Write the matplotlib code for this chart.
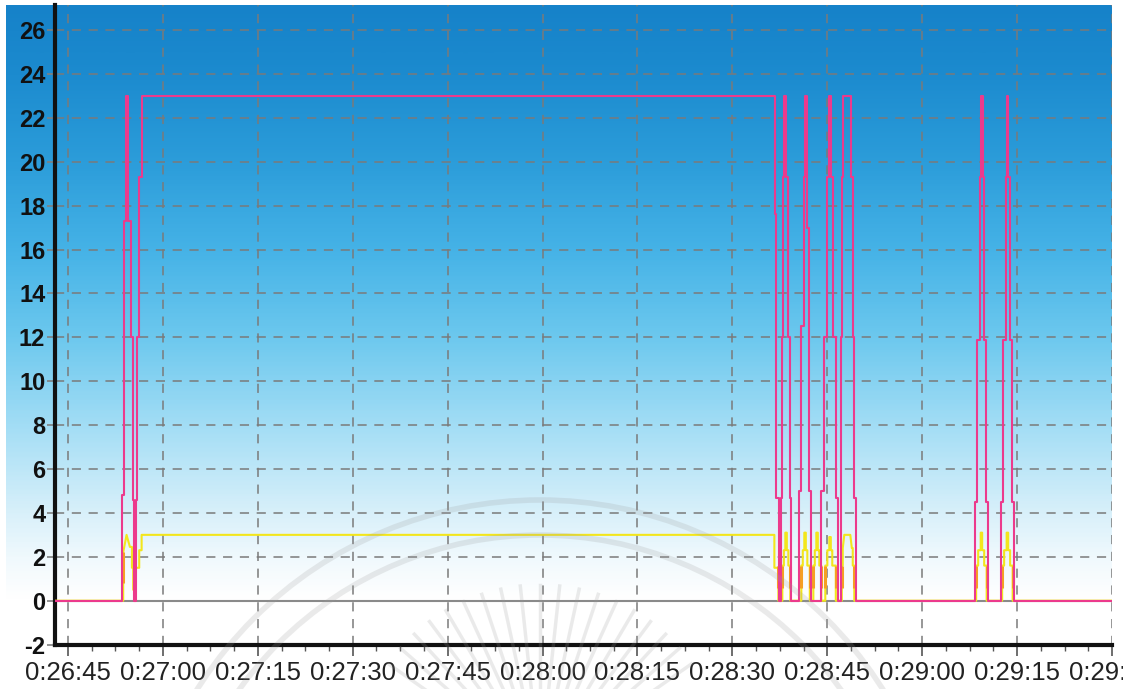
import matplotlib
matplotlib.use("Agg")
import numpy as np
import matplotlib.pyplot as plt
from matplotlib.colors import LinearSegmentedColormap
from matplotlib.ticker import AutoMinorLocator, FuncFormatter
from matplotlib.patches import Circle

plt.rcParams["axes.unicode_minus"] = False

T0 = 26 * 60 + 45  # 0:26:45 in seconds

# pink trace: seconds after 0:26:45, value
pink_t = [-2.05, 8.57, 8.57, 8.84, 8.84, 9.16, 9.16, 9.52, 9.52, 10.03, 10.03, 10.2, 10.2, 10.42, 10.42,
          10.74, 10.74, 10.86, 10.86, 11.26, 11.26, 11.64, 11.64,
          111.75, 111.75, 111.95, 111.95, 112.35, 112.35,
          112.66, 112.66, 112.82, 112.82, 112.98, 112.98, 113.22, 113.22, 113.53, 113.53, 113.77, 113.77, 114.08, 114.08, 114.32, 114.32,
          115.51, 115.51, 115.85, 115.85, 116.37, 116.37, 116.53, 116.53, 116.85, 116.85, 117.16, 117.16, 117.48, 117.48,
          119.06, 119.06, 119.53, 119.53, 120.01, 120.01, 120.32, 120.32, 120.64, 120.64, 120.95, 120.95, 121.43, 121.43, 121.67, 121.67,
          122.17, 122.17, 122.22, 122.22, 122.30, 122.30, 122.45, 122.45, 123.80, 123.80, 124.0, 124.0, 124.3, 124.3, 124.59, 124.59,
          143.38, 143.38, 143.69, 143.69, 144.17, 144.17, 144.32, 144.32, 144.56, 144.56, 144.80, 144.80, 145.11, 145.11, 145.35, 145.35,
          147.48, 147.48, 147.80, 147.80, 148.19, 148.19, 148.35, 148.35, 148.59, 148.59, 148.90, 148.90, 149.22, 149.22, 149.53, 149.53,
          164.85]
pink_v = [0, 0, 4.8, 4.8, 17.3, 17.3, 23, 23, 17.3, 17.3, 12, 12, 4.6, 4.6, 0,
          0, 4.6, 4.6, 12, 12, 19.3, 19.3, 23,
          23, 17.6, 17.6, 4.7, 4.7, 0,
          0, 4.7, 4.7, 12, 12, 19.3, 19.3, 23, 23, 19.3, 19.3, 12, 12, 4.7, 4.7, 0,
          0, 5, 5, 12.5, 12.5, 19.3, 19.3, 23, 23, 17, 17, 5, 5, 0,
          0, 5, 5, 12, 12, 19.3, 19.3, 23, 23, 19.3, 19.3, 12, 12, 4.7, 4.7, 0,
          0, 4.7, 4.7, 12, 12, 19.3, 19.3, 23, 23, 19.3, 19.3, 12, 12, 4.7, 4.7, 0,
          0, 4.5, 4.5, 11.9, 11.9, 19.3, 19.3, 23, 23, 19.3, 19.3, 11.9, 11.9, 4.5, 4.5, 0,
          0, 4.5, 4.5, 11.9, 11.9, 19.3, 19.3, 23, 23, 19.3, 19.3, 11.9, 11.9, 4.5, 4.5, 0,
          0]

# yellow trace
yellow_t = [-2.05, 8.73, 8.73, 9.26, 9.79, 10.11, 10.11, 10.31, 10.31, 10.6, 10.6, 11.26, 11.26, 11.64, 11.64,
            111.64, 111.64, 112.27, 112.27,
            112.90, 112.90, 113.14, 113.14, 113.37, 113.37, 113.61, 113.61, 113.85, 113.85, 114.16, 114.16,
            115.90, 115.90, 116.13, 116.13, 116.37, 116.37, 116.61, 116.61, 116.85, 116.85, 117.24, 117.24,
            117.80, 117.80, 118.03, 118.03, 118.27, 118.27, 118.51, 118.51, 118.74, 118.74, 119.06, 119.06,
            119.69, 119.69, 120.01, 120.01, 120.32, 120.32, 120.56, 120.56, 120.79, 120.79, 121.35, 121.35,
            122.30, 122.30, 122.45, 122.45, 122.69, 123.64, 123.88, 124.03, 124.03, 124.27, 124.27,
            143.53, 143.53, 143.85, 143.85, 144.25, 144.25, 144.48, 144.48, 144.80, 144.80, 145.19, 145.19,
            147.64, 147.64, 147.95, 147.95, 148.35, 148.35, 148.59, 148.59, 148.90, 148.90, 149.30, 149.30,
            164.85]
yellow_v = [0, 0, 2.2, 3.0, 2.45, 2.45, 1.5, 1.5, 0.5, 0.5, 1.5, 1.5, 2.3, 2.3, 3.0,
            3.0, 1.5, 1.5, 0,
            0, 1.6, 1.6, 2.3, 2.3, 3.1, 3.1, 2.3, 2.3, 1.6, 1.6, 0,
            0, 1.6, 1.6, 2.3, 2.3, 3.1, 3.1, 2.3, 2.3, 1.6, 1.6, 0,
            0, 1.6, 1.6, 2.3, 2.3, 3.1, 3.1, 2.3, 2.3, 1.6, 1.6, 0,
            0, 1.6, 1.6, 2.3, 2.3, 2.9, 2.9, 2.3, 2.3, 1.6, 1.6, 0,
            0, 1.6, 1.6, 2.4, 3.0, 3.0, 2.4, 2.4, 1.6, 1.6, 0,
            0, 1.6, 1.6, 2.3, 2.3, 3.1, 3.1, 2.3, 2.3, 1.6, 1.6, 0,
            0, 1.6, 1.6, 2.3, 2.3, 3.1, 3.1, 2.3, 2.3, 1.6, 1.6, 0,
            0]

# orange edges of the yellow pulses
orange_t = [8.76, 10.45, 112.27, 112.90, 114.16, 115.90, 117.24, 117.80, 119.06, 119.69, 121.35,
            122.30, 124.27, 143.53, 145.19, 147.64, 149.30]
orange_lo = [0.8, 0.5] + [0.6] * 15
orange_hi = [2.2, 1.5] + [1.6] * 15

x_ticks = np.arange(0, 166, 15)
y_ticks = list(range(-2, 27, 2))

W, H = 1123, 689
fig = plt.figure(figsize=(W / 100, H / 100), dpi=100)
fig.patch.set_facecolor("white")

# background gradient
bg = fig.add_axes([6 / W, 0, (1112 - 6) / W, 1 - 5 / H], zorder=0)
stops = [(0, "#1682c9"), (0.10, "#1c8bcf"), (0.23, "#2c9dda"), (0.36, "#46b3e7"), (0.485, "#6cc8ee"),
         (0.614, "#a2ddf5"), (0.743, "#d8f0fa"), (0.81, "#f0f9fd"), (0.87, "#ffffff"), (1, "#ffffff")]
cmap = LinearSegmentedColormap.from_list("bggrad", stops)
bg.imshow(np.linspace(0, 1, 400).reshape(-1, 1), aspect="auto", cmap=cmap, extent=[0, 1, 1, 0])
bg.set_axis_off()

ax = fig.add_axes([55 / W, 1 - 644.6 / H, (1112 - 55) / W, (644.6 - 5) / H], zorder=1)
ax.set_facecolor("none")

tt = lambda lst: [T0 + t for t in lst]
ax.axhline(0, color="#8a8a8a", lw=1.5, zorder=2)
ax.plot(tt(yellow_t), yellow_v, color="#f3e61c", lw=1.5, zorder=3)
ax.vlines(tt(orange_t), orange_lo, orange_hi, color="#f5a023", lw=2.2, zorder=4)
ax.plot(tt(pink_t), pink_v, color="#ec3a8c", lw=1.5, zorder=5)

ax.set_xlim(T0 - 2.05, T0 + 164.85)
ax.set_ylim(-2, 27.14)
ax.set_xticks(tt(x_ticks))
ax.xaxis.set_minor_locator(AutoMinorLocator(4))
ax.set_yticks(y_ticks)


def fmt(s, pos):
    s = int(round(s))
    return f"{s // 3600}:{s % 3600 // 60:02d}:{s % 60:02d}"


ax.xaxis.set_major_formatter(FuncFormatter(fmt))
ax.grid(True, which="major", color="#7a7a7a", linestyle=(0, (6, 5)), linewidth=1.1)

for side in ["top", "right"]:
    ax.spines[side].set_visible(False)
for side in ["left", "bottom"]:
    ax.spines[side].set_linewidth(3)
    ax.spines[side].set_color("#111111")

ax.tick_params(axis="y", length=6, width=1.2, color="#808080", pad=1, labelsize=17, labelcolor="#111111")
for lab in ax.get_yticklabels():
    lab.set_fontweight("bold")
    lab.set_fontfamily("Liberation Sans")
ax.tick_params(axis="x", which="major", length=8, width=1.2, color="#555555", pad=4, labelsize=18.5,
               labelcolor="#222222")
ax.tick_params(axis="x", which="minor", length=4, width=1.0, color="#555555")
for lab in ax.get_xticklabels():
    lab.set_fontfamily("Liberation Sans")

# faint watermark rings and rays
ov = fig.add_axes([0, 0, 1, 1], zorder=6)
ov.set_xlim(0, W)
ov.set_ylim(H, 0)
ov.set_axis_off()
for r in (405, 370):
    ov.add_patch(Circle((540, 905), r, fill=False, edgecolor="#9a9a9a", lw=4, alpha=0.2))
for ang in np.linspace(35, 145, 19):
    a = np.radians(ang)
    ov.plot([540 + 80 * np.cos(a), 540 + 185 * np.cos(a)], [770 - 80 * np.sin(a), 770 - 185 * np.sin(a)],
            color="#9a9a9a", lw=2.5, alpha=0.2)

fig.savefig("out.png", dpi=100)
